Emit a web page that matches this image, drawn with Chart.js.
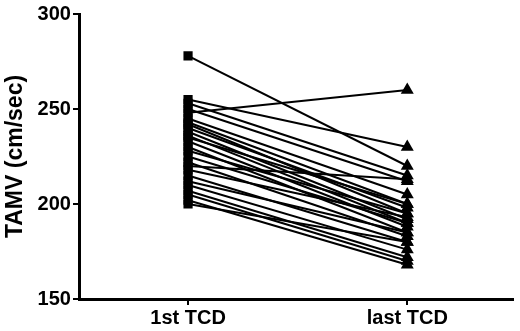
<!DOCTYPE html>
<html>
<head>
<meta charset="utf-8">
<script src="https://cdn.jsdelivr.net/npm/chart.js@4"></script>
<style>
  body { margin: 0; background: #fff; }
  #wrap { width: 520px; height: 331px; }
</style>
</head>
<body>
<div id="wrap"><canvas id="tcdChart"></canvas></div>
<script>
// TAMV per patient, first vs last TCD
const categories = ['1st TCD', 'last TCD'];
const firstTcd = [278, 248, 255, 253, 250, 245, 243, 242, 240, 238, 236, 235, 233, 230, 228, 225, 222, 220, 218, 215, 212, 210, 207, 205, 202, 200];
const lastTcd  = [220, 260, 230, 215, 212, 205, 200, 195, 198, 192, 190, 200, 188, 185, 195, 190, 183, 213, 193, 180, 185, 176, 172, 170, 168, 180];
const yTicks = [150, 200, 250, 300];

const datasets = firstTcd.map((v, i) => ({
    data: [{ x: 1, y: v }, { x: 2, y: lastTcd[i] }],
    borderColor: '#000',
    backgroundColor: '#000',
    borderWidth: 2,
    pointStyle: ['rect', 'triangle'],
    pointRadius: [6.5, 7.5],
    pointBorderWidth: 0,
    showLine: true
}));

const tickFont = { family: 'Liberation Sans', size: 20, weight: 'bold' };

const ctx = document.getElementById('tcdChart').getContext('2d');
new Chart(ctx, {
    type: 'scatter',
    data: { datasets: datasets },
    options: {
        responsive: true,
        maintainAspectRatio: false,
        animation: false,
        layout: { padding: { top: -4, right: 0, left: 2, bottom: 0 } },
        plugins: {
            legend: { display: false },
            tooltip: { enabled: false }
        },
        scales: {
            x: {
                type: 'linear',
                min: 0.507,
                max: 2.48,
                afterBuildTicks: axis => { axis.ticks = [{ value: 1 }, { value: 2 }]; },
                ticks: {
                    callback: v => categories[v - 1],
                    color: '#000',
                    font: tickFont,
                    padding: 1,
                    maxRotation: 0
                },
                grid: { drawOnChartArea: false, color: '#000', lineWidth: 2, tickLength: 6 },
                border: { color: '#000', width: 3 }
            },
            y: {
                min: 150,
                max: 300,
                afterBuildTicks: axis => { axis.ticks = yTicks.map(v => ({ value: v })); },
                ticks: {
                    color: '#000',
                    font: tickFont,
                    padding: 2
                },
                grid: { drawOnChartArea: false, color: '#000', lineWidth: 2, tickLength: 7 },
                border: { color: '#000', width: 3 },
                title: {
                    display: true,
                    text: 'TAMV (cm/sec)',
                    color: '#000',
                    font: { family: 'Liberation Sans', size: 23, weight: 'bold' },
                    padding: { top: 0, bottom: 6 }
                }
            }
        }
    }
});
</script>
</body>
</html>
